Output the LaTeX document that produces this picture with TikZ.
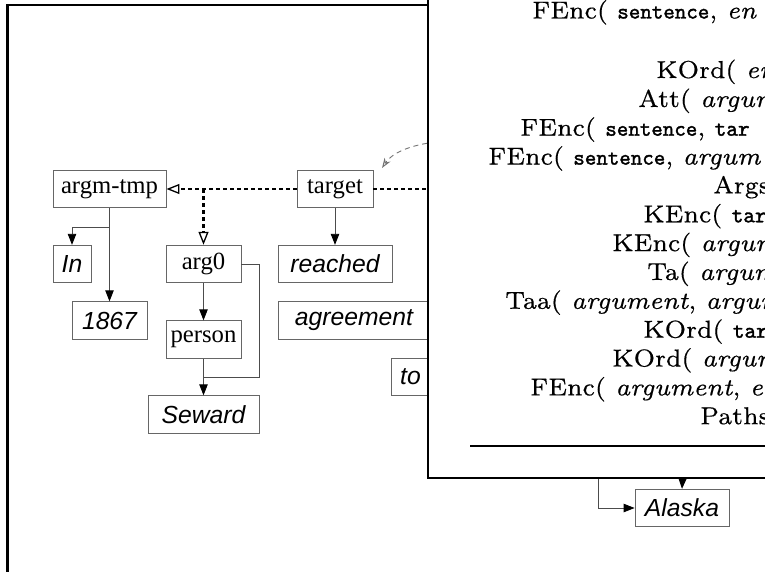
\documentclass[tikz,border=0pt]{standalone}
\usepackage{fontspec}
\usetikzlibrary{arrows.meta}
\newfontfamily\serifbox{Liberation Serif}
\newfontfamily\sansbox{Liberation Sans}
\newfontfamily\lmsev{lmroman7-regular.otf}[ItalicFont=lmroman7-italic.otf, FakeBold=0.5]
\newfontfamily\codefont{lmmono10-regular.otf}[FakeBold=1.6]
% typewriter word stretched to a fixed advance of #1 pt
\newcommand\tword[2]{\resizebox{#1pt}{!}{\codefont #2}}
\begin{document}
\begin{tikzpicture}[x=1pt,y=-1pt,
  box/.style={draw=black!60, line width=0.9pt, minimum height=37.5pt, inner sep=0pt,
              font=\serifbox\fontsize{24.7}{28}\selectfont},
  wbox/.style={box, font=\sansbox\itshape\fontsize{24.7}{28}\selectfont},
  link/.style={draw=black!70, line width=0.9pt},
  tip/.style={-{Triangle[length=11pt,width=8.5pt,color=black]}},
  dotlink/.style={draw=black, line width=2.1pt, dash pattern=on 4pt off 3pt},
  opentip/.style={-{Triangle[open,length=13pt,width=10pt,line width=1.3pt]}},
  ovl/.style={anchor=base west, inner sep=0pt, font=\lmsev\fontsize{24.5}{29}\selectfont}]
\useasboundingbox (0,0) rectangle (765,572);
\clip (0,0) rectangle (765,572);

% outer frame of the graph panel
\draw[line width=2.4pt] (7.3,600) -- (7.3,5.3) -- (440,5.3);

% graph nodes
\node[box, minimum width=113pt] (argm)   at (109.5,189)   {argm-tmp};
\node[box, minimum width=76pt]  (target) at (335,189)     {target};
\node[wbox, minimum width=38pt] (in)     at (72,264)      {In};
\node[box, minimum width=75pt]  (arg0)   at (203.5,264)   {arg0};
\node[wbox, minimum width=114pt] (reached) at (335,264)   {reached};
\node[wbox, minimum width=75pt] (year)   at (109.5,320.5) {1867};
\node[box, minimum width=75pt]  (person) at (203.5,339.5) {person};
\node[wbox, minimum width=152pt] (agree) at (354,320.5)   {agreement};
\node[wbox, minimum width=39pt] (to)     at (410.5,377)   {to};
\node[wbox, minimum width=111pt] (seward) at (203.5,414.5) {Seward};
\node[wbox, minimum width=94pt] (alaska) at (682,508)     {Alaska};

% helper points
\coordinate (split) at (109.5,227);
\coordinate (fork) at (arg0.north |- target.west);
\coordinate (loopR) at (259,264);
\coordinate (loopB) at (259,377);
\coordinate (loopJ) at (203.5,377);
\coordinate (rimA) at (440,189);
\coordinate (cstart) at (436,142);
\coordinate (ctip) at (382,168);
\coordinate (downA) at (683,470);
\coordinate (downB) at (598,470);
\coordinate (bendB) at (598,508);

% solid links
\draw[link, tip] (argm.south) -- (year.north);
\draw[link, tip] (split) -| (in.north);
\draw[link, tip] (arg0.south) -- (person.north);
\draw[link, tip] (person.south) -- (seward.north);
\draw[link] (arg0.east) -- (loopR) -- (loopB) -- (loopJ);
\draw[link, tip] (target.south) -- (reached.north);
\draw[link, tip] (downA) -- (alaska.north);
\draw[link, tip] (downB) -- (bendB) -- (alaska.west);

% dotted links
\draw[dotlink, opentip] (target.west) -- (argm.east);
\draw[dotlink, opentip] (fork) -- (arg0.north);
\draw[dotlink] (target.east) -- (rimA);

% curved dashed pointer
\draw[draw=black!55, line width=0.9pt, dash pattern=on 5pt off 4pt,
      -{Stealth[open,length=10pt,width=7pt,line width=1pt]}]
  (cstart) .. controls (410,145) and (392,153) .. (ctip);

% overlaid panel
\fill[white] (428,-20) rectangle (800,478);
\draw[line width=2.7pt] (428,-20) -- (428,478) -- (800,478);

\node[ovl] (l0)  at (532,18.5)  {FEnc( \tword{92}{sentence}, \textit{en}};
\node[ovl] (l2)  at (656,78)    {KOrd( \textit{en}};
\node[ovl] (l3)  at (638,107)   {Att( \textit{argum}};
\node[ovl] (l4)  at (520,135.7) {FEnc( \tword{92}{sentence}, \tword{35}{tar}};
\node[ovl] (l5)  at (488,164.6) {FEnc( \tword{92}{sentence}, \textit{argum}};
\node[ovl] (l6)  at (713,193.4) {Args};
\node[ovl] (l7)  at (643,222.3) {KEnc( \tword{35}{tar}};
\node[ovl] (l8)  at (612,251.1) {KEnc( \textit{argum}};
\node[ovl] (l9)  at (647,280)   {Ta( \textit{argum}};
\node[ovl] (l10) at (505,308.8) {Taa( \textit{argument}, \textit{argum}};
\node[ovl] (l11) at (643,337.7) {KOrd( \tword{35}{tar}};
\node[ovl] (l12) at (612,366.5) {KOrd( \textit{argum}};
\node[ovl] (l13) at (530,395.4) {FEnc( \textit{argument}, \textit{en}};
\node[ovl] (l14) at (700,424.2) {Paths};

\draw[line width=1.2pt] (470,446) -- (800,446);
\end{tikzpicture}
\end{document}
